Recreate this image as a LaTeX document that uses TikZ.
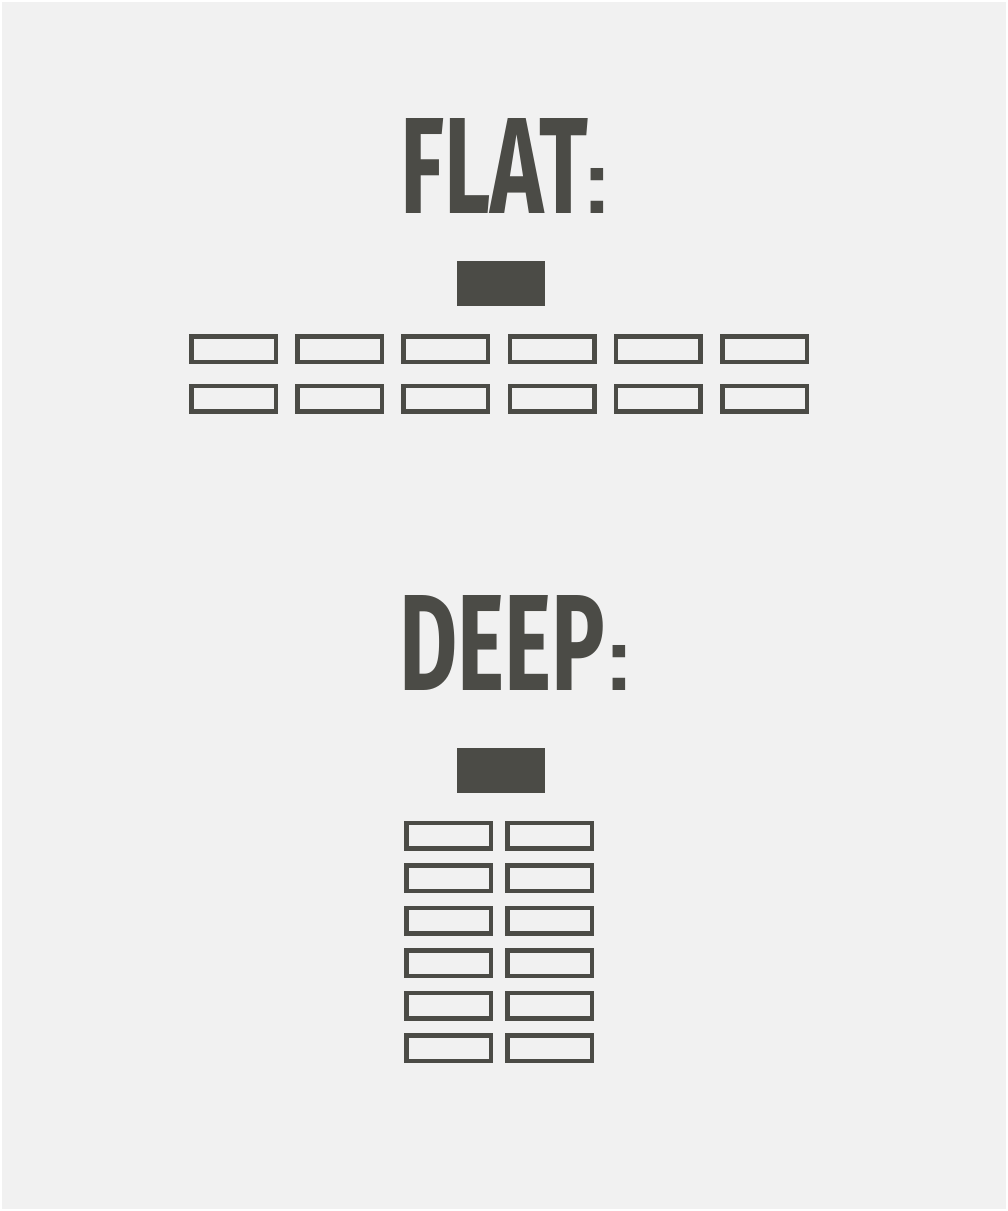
\documentclass[tikz,border=0pt]{standalone}
\usepackage{fontspec}
\setmainfont{Fira Sans}
\newfontfamily\colonfont{Liberation Sans}
\usepackage{graphicx}
\definecolor{bgc}{HTML}{F1F1F1}
\definecolor{ink}{HTML}{4B4B46}
\tikzset{
  outbox/.style={draw=ink, fill=bgc, line width=4.5pt, rectangle, minimum width=84.5pt, minimum height=25.5pt, inner sep=0pt},
  headbox/.style={fill=ink, rectangle, minimum width=88pt, minimum height=45pt, inner sep=0pt},
  title/.style={text=ink, inner sep=0pt, font=\bfseries, anchor=base west}
}
\newcommand{\sqcolon}{\resizebox{!}{45pt}{\colonfont\bfseries :}}
\begin{document}
\begin{tikzpicture}[x=1pt,y=-1pt]
\useasboundingbox (0,0) rectangle (1008,1211);
\fill[white] (0,0) rectangle (1008,1211);
\fill[bgc] (2,2) rectangle (1006,1209);
% titles
\node[title] (flat) at (400,213) {\resizebox{188pt}{95pt}{FLAT}\hspace{-6pt}\sqcolon};
\node[title] (deep) at (399,690) {\resizebox{206pt}{95pt}{DEEP}\hspace{-1pt}\sqcolon};
% flat structure
\node[headbox] (fhead) at (501,283.5) {};
\foreach \i in {0,...,5}{
  \node[outbox] (f1\i) at ({233.5+106.2*\i},349) {};
  \node[outbox] (f2\i) at ({233.5+106.2*\i},398.5) {};
}
% deep structure
\node[headbox] (dhead) at (501,770.5) {};
\foreach \r in {0,...,5}{
  \node[outbox] (dl\r) at (448.5,{835.5+42.5*\r}) {};
  \node[outbox] (dr\r) at (549.5,{835.5+42.5*\r}) {};
}
\end{tikzpicture}
\end{document}
